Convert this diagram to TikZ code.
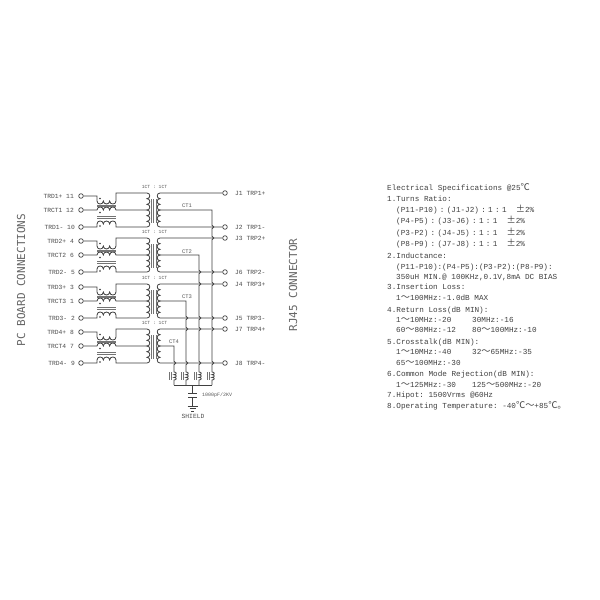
\documentclass[tikz,border=0pt]{standalone}
\usepackage{fontspec}
\setmainfont{Liberation Serif}
\setmonofont{Liberation Mono}
\newfontfamily\cjkf{Noto Sans CJK SC}
\newfontfamily\titlef{DejaVu Sans Mono}
\newcommand{\F}[1]{{\fontsize{9.2}{10}\cjkf #1}}
\newcommand{\CC}{\makebox[9.2pt][c]{:}}
\newcommand{\HH}{\ \ }
\newcommand{\hopat}[2]{-- ({#1},{#2-1.8}) .. controls ({#1+2.4},{#2-1.8}) and ({#1+2.4},{#2+1.8}) .. ({#1},{#2+1.8})}
\newcommand{\humpsH}[1]{.. controls +(0,#1) and +(0,#1) .. ++(6.33,0) .. controls +(0,#1) and +(0,#1) .. ++(6.33,0) .. controls +(0,#1) and +(0,#1) .. ++(6.34,0)}
\newcommand{\humpsV}[1]{.. controls +(#1,0) and +(#1,0) .. ++(0,5.67) .. controls +(#1,0) and +(#1,0) .. ++(0,5.67) .. controls +(#1,0) and +(#1,0) .. ++(0,5.66)}
\tikzset{
  wire/.style={draw=black!75,line width=0.8pt},
  core/.style={draw=black!55,line width=0.6pt},
  pinc/.style={circle,draw=black!75,fill=white,line width=0.7pt,minimum size=4.6pt,inner sep=0pt},
  dotc/.style={circle,fill=black!80,minimum size=1.8pt,inner sep=0pt},
  pinl/.style={font=\ttfamily\fontsize{6.3}{7}\selectfont,text=black!70,inner sep=0pt},
  small/.style={font=\ttfamily\fontsize{4.7}{6}\selectfont,text=black!65,inner sep=0pt},
  spec/.style={font=\ttfamily\fontsize{7.67}{9}\selectfont,text=black!75,inner sep=0pt,anchor=base west},
  ttl/.style={font=\titlef\fontsize{11}{12}\selectfont,text=black!60,inner sep=0pt,rotate=90}
}
\begin{document}
\begin{tikzpicture}[x=1pt,y=-1pt]
\useasboundingbox (0,0) rectangle (600,600);
\fill[white] (0,0) rectangle (600,600);
% four transformer groups
\foreach \g/\t/\aa/\na/\bb/\nb/\cc/\nc/\jt/\lt/\jb/\lb in {
  1/193/TRD1+/11/TRCT1/12/TRD1-/10/J1/TRP1+/J2/TRP1-,
  2/238/TRD2+/4/TRCT2/6/TRD2-/5/J3/TRP2+/J6/TRP2-,
  3/284/TRD3+/3/TRCT3/1/TRD3-/2/J4/TRP3+/J5/TRP3-,
  4/329/TRD4+/8/TRCT4/7/TRD4-/9/J7/TRP4+/J8/TRP4-}{
\begin{scope}[shift={(0,\t)}]
  \node[pinc] (pa\g) at (81,3) {};
  \node[pinc] (pb\g) at (81,17) {};
  \node[pinc] (pc\g) at (81,34) {};
  \node[pinc] (rt\g) at (225,0) {};
  \node[pinc] (rb\g) at (225,34) {};
  \node[pinl,anchor=east] (la\g) at (74,3) {\aa\ \na};
  \node[pinl,anchor=east] (lb\g) at (74,17) {\bb\ \nb};
  \node[pinl,anchor=east] (lc\g) at (75,34.5) {\cc\ \nc};
  \node[pinl,anchor=west] (lt\g) at (235,0) {\jt\ \lt};
  \node[pinl,anchor=west] (lu\g) at (235,34) {\jb\ \lb};
  \node[small] (ratio\g) at (154.5,-6) {1CT : 1CT};
  % common-mode choke
  \draw[wire] (pa\g) -- (97,3) -- (97,8) \humpsH{4} -- (116,0) -- (147,0) \humpsV{3.7} \humpsV{3.7} -- (147,34) -- (116,34) -- (116,31);
  \draw[wire] (pb\g) -- (97,17) \humpsH{-4} -- (147,17);
  \draw[wire] (pc\g) -- (97,34) -- (97,31) \humpsH{-4};
  \foreach \yy in {12,13.6,23.5,25.1}{\draw[core] (97,\yy) -- (116,\yy);}
  \node[dotc] (da\g) at (100,5.5) {};
  \node[dotc] (db\g) at (100,19.5) {};
  \node[dotc] (dc\g) at (100,33) {};
  % isolation transformer
  \foreach \xx in {151.5,153.7,155.9}{\draw[core] (\xx,6) -- (\xx,30);}
  \draw[wire] (rt\g) -- (160,0) \humpsV{-3.7} \humpsV{-3.7} -- (rb\g);
  \coordinate (ct\g) at (160,17);
\end{scope}
}
% centre taps down to the terminations, hopping over the pair wires
\coordinate (e1) at (212,372); \coordinate (e2) at (199,372);
\coordinate (e3) at (186,372); \coordinate (e4) at (174,372);
\draw[wire] (ct1) -- (212,210) \hopat{212}{227} \hopat{212}{238} \hopat{212}{272} \hopat{212}{284} \hopat{212}{318} \hopat{212}{329} \hopat{212}{363} -- (e1);
\draw[wire] (ct2) -- (199,255) \hopat{199}{272} \hopat{199}{284} \hopat{199}{318} \hopat{199}{329} \hopat{199}{363} -- (e2);
\draw[wire] (ct3) -- (186,301) \hopat{186}{318} \hopat{186}{329} \hopat{186}{363} -- (e3);
\draw[wire] (ct4) -- (174,346) \hopat{174}{363} -- (e4);
\node[small,font=\ttfamily\fontsize{5.5}{6}\selectfont] (tct1) at (187,206) {CT1};
\node[small,font=\ttfamily\fontsize{5.5}{6}\selectfont] (tct2) at (187,251.5) {CT2};
\node[small,font=\ttfamily\fontsize{5.5}{6}\selectfont] (tct3) at (187,297) {CT3};
\node[small,font=\ttfamily\fontsize{5.5}{6}\selectfont] (tct4) at (174,342) {CT4};
% terminations
\coordinate (busl) at (174,385); \coordinate (busr) at (212,385); \coordinate (busm) at (192,385);
\foreach \i/\x in {1/212,2/199,3/186,4/174}{
  \draw[wire] (e\i) .. controls +(3,0) and +(3,0) .. ++(0,2.7) .. controls +(3,0) and +(3,0) .. ++(0,2.7) .. controls +(3,0) and +(3,0) .. ++(0,2.6) -- (\x,385);
  \draw[core] (\x-4.5,372) -- (\x-4.5,380);
  \draw[core] (\x-2.8,372) -- (\x-2.8,380);
}
\draw[wire] (busl) -- (busr);
\coordinate (cap1) at (192,393); \coordinate (cap2) at (192,397); \coordinate (gnd) at (192,406);
\draw[wire] (busm) -- (cap1);
\draw[wire] (188,393) -- (197,393);
\draw[wire] (188,397) -- (197,397);
\draw[wire] (cap2) -- (gnd);
\draw[wire] (187.5,406) -- (197.5,406);
\draw[wire] (189.5,408.5) -- (195.5,408.5);
\draw[wire] (191,411) -- (194,411);
\node[small,font=\ttfamily\fontsize{5}{6}\selectfont,anchor=west] (capv) at (202,395) {1000pF/2KV};
\node[pinl] (shield) at (193,416) {SHIELD};
% side titles
\node[ttl] (pcb) at (21,280) {PC BOARD CONNECTIONS};
\node[ttl] (rj) at (293,285) {RJ45 CONNECTOR};
% specification
\node[spec] (s1) at (387,190.5) {Electrical Specifications @25\F{℃}};
\node[spec] (s2) at (387,201.5) {1.Turns Ratio:};
\node[spec] (s3) at (396,212.5) {(P11-P10)\CC(J1-J2)\CC1\CC1\HH\F{±}2\%};
\node[spec] (s4) at (396,223.5) {(P4-P5)\CC(J3-J6)\CC1\CC1\HH\F{±}2\%};
\node[spec] (s5) at (396,235) {(P3-P2)\CC(J4-J5)\CC1\CC1\HH\F{±}2\%};
\node[spec] (s6) at (396,246.5) {(P8-P9)\CC(J7-J8)\CC1\CC1\HH\F{±}2\%};
\node[spec] (s7) at (387,258) {2.Inductance:};
\node[spec] (s8) at (396,269.5) {(P11-P10):(P4-P5):(P3-P2):(P8-P9):};
\node[spec] (s9) at (396,279.5) {350uH MIN.@ 100KHz,0.1V,8mA DC BIAS};
\node[spec] (s10) at (387,289.5) {3.Insertion Loss:};
\node[spec] (s11) at (396,300.5) {1\F{～}100MHz:-1.0dB MAX};
\node[spec] (s12) at (387,312) {4.Return Loss(dB MIN):};
\node[spec] (s13) at (396,322.5) {1\F{～}10MHz:-20};
\node[spec] (s13b) at (472,322.5) {30MHz:-16};
\node[spec] (s14) at (396,332.5) {60\F{～}80MHz:-12};
\node[spec] (s14b) at (472,332.5) {80\F{～}100MHz:-10};
\node[spec] (s15) at (387,344) {5.Crosstalk(dB MIN):};
\node[spec] (s16) at (396,354.5) {1\F{～}10MHz:-40};
\node[spec] (s16b) at (472,354.5) {32\F{～}65MHz:-35};
\node[spec] (s17) at (396,365) {65\F{～}100MHz:-30};
\node[spec] (s18) at (387,376.5) {6.Common Mode Rejection(dB MIN):};
\node[spec] (s19) at (396,387) {1\F{～}125MHz:-30};
\node[spec] (s19b) at (472,387) {125\F{～}500MHz:-20};
\node[spec] (s20) at (387,397.5) {7.Hipot: 1500Vrms @60Hz};
\node[spec] (s21) at (387,408.5) {8.Operating Temperature: -40\F{℃}\F{～}+85\F{℃}\F{。}};
\end{tikzpicture}
\end{document}
